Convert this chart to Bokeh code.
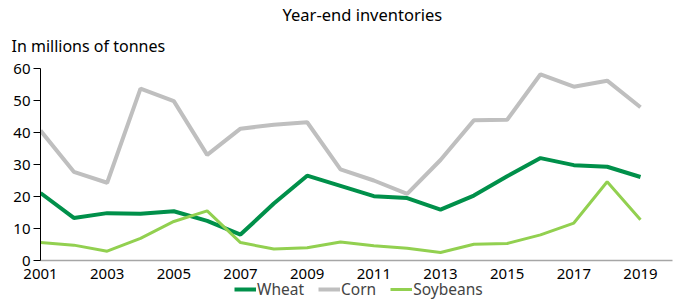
from bokeh.plotting import figure
from bokeh.models import Range1d, Legend, LegendItem, Title, FixedTicker
from bokeh.layouts import column
from bokeh.embed import file_html
from bokeh.resources import INLINE

years = list(range(2001, 2020))
wheat = [21.1, 13.3, 14.8, 14.6, 15.4, 12.4, 8.1, 17.8, 26.5, 23.3, 20.1, 19.5, 15.9, 20.3, 26.3, 32.0, 29.8, 29.3, 26.1]
corn = [40.6, 27.7, 24.3, 53.7, 49.8, 33.0, 41.2, 42.4, 43.2, 28.5, 25.0, 20.8, 31.4, 43.8, 44.0, 58.2, 54.3, 56.2, 47.9]
soybeans = [5.6, 4.8, 2.9, 6.9, 12.2, 15.5, 5.6, 3.6, 4.0, 5.8, 4.6, 3.8, 2.5, 5.1, 5.3, 8.0, 11.7, 24.6, 12.7]
x_ticks = [2001, 2003, 2005, 2007, 2009, 2011, 2013, 2015, 2017, 2019]
y_ticks = [0, 10, 20, 30, 40, 50, 60]
series = [("Wheat", wheat, "#00904A", 4), ("Corn", corn, "#BFBFBF", 4), ("Soybeans", soybeans, "#92D050", 3)]

FONT = "Noto Sans"

p = figure(width=676, height=276, output_backend="svg", toolbar_location=None,
           x_range=Range1d(2001, 2019.96), y_range=Range1d(0, 60),
           min_border_left=40, min_border_right=4, min_border_top=0, min_border_bottom=0,
           margin=(5, 0, 0, 0))
p.outline_line_color = None
p.xgrid.grid_line_color = None
p.ygrid.grid_line_color = None

p.title = Title(text="Year-end inventories", align="left", offset=242, text_font=FONT,
                text_font_size="16.5px", text_font_style="normal", text_color="#000000",
                standoff=-10)
p.add_layout(Title(text="In millions of tonnes", align="left", offset=-29, text_font=FONT,
                   text_font_size="16px", text_font_style="normal", text_color="#000000",
                   standoff=24), "above")

for name, vals, color, lw in series:
    p.line(years, vals, line_color=color, line_width=lw)

p.xaxis.ticker = FixedTicker(ticks=x_ticks)
p.yaxis.ticker = FixedTicker(ticks=y_ticks)
p.xaxis.axis_line_color = "#A6A6A6"
p.xaxis.axis_line_width = 1.5
p.xaxis.major_tick_line_color = None
p.xaxis.major_tick_out = 0
p.xaxis.major_tick_in = 0
p.xaxis.minor_tick_line_color = None
p.xaxis.major_label_standoff = 8
p.xaxis.axis_label_standoff = 0
p.yaxis.axis_line_color = "#000000"
p.yaxis.major_tick_line_color = "#000000"
p.yaxis.major_tick_out = 7
p.yaxis.major_tick_in = 0
p.yaxis.minor_tick_line_color = None
p.yaxis.major_label_standoff = 3
for ax in (p.xaxis, p.yaxis):
    ax.major_label_text_font = FONT
    ax.major_label_text_font_size = "15px"
    ax.major_label_text_color = "#000000"

# legend strip below the chart
lf = figure(width=676, height=19, output_backend="svg", toolbar_location=None,
            x_range=Range1d(0, 1), y_range=Range1d(0, 1), x_axis_type=None, y_axis_type=None,
            min_border=0)
lf.outline_line_color = None
lf.xgrid.grid_line_color = None
lf.ygrid.grid_line_color = None
items = []
for name, vals, color, lw in series:
    r = lf.line(years, vals, line_color=color, line_width=lw)
    items.append(LegendItem(label=name, renderers=[r]))
legend = Legend(items=items, orientation="horizontal", location=(194, 0),
                label_text_font=FONT, label_text_font_size="15.5px",
                glyph_width=22, glyph_height=16, label_height=16, label_standoff=1, spacing=14,
                padding=2, margin=0, border_line_color=None, background_fill_alpha=0)
lf.add_layout(legend, "center")

open("out.html", "w").write(file_html(column(p, lf, spacing=0), INLINE))
